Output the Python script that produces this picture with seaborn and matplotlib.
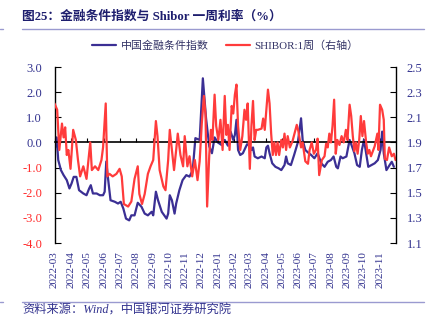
import matplotlib
matplotlib.use("Agg")
import matplotlib.pyplot as plt
import matplotlib.dates as mdates
from matplotlib.lines import Line2D
import seaborn as sns
import pandas as pd

sns.set_style("white")
plt.rcParams['font.family'] = ['Liberation Serif', 'Noto Sans CJK SC', 'DejaVu Sans']
plt.rcParams['axes.unicode_minus'] = False

# ---------------- data ----------------
fci_dates = [
    "2022-03-02", "2022-03-05", "2022-03-08", "2022-03-13", "2022-03-18", "2022-03-24", "2022-03-29",
    "2022-04-02", "2022-04-06", "2022-04-11", "2022-04-16", "2022-04-24", "2022-04-30", "2022-05-05",
    "2022-05-08", "2022-05-12", "2022-05-19", "2022-05-25", "2022-05-31", "2022-06-03", "2022-06-06",
    "2022-06-09", "2022-06-14", "2022-06-22", "2022-06-28", "2022-07-03", "2022-07-08", "2022-07-13",
    "2022-07-19", "2022-07-23", "2022-07-29", "2022-08-04", "2022-08-11", "2022-08-17", "2022-08-23",
    "2022-08-30", "2022-09-02", "2022-09-07", "2022-09-11", "2022-09-18", "2022-09-27", "2022-09-30",
    "2022-10-03", "2022-10-07", "2022-10-12", "2022-10-15", "2022-10-21", "2022-10-27", "2022-11-03",
    "2022-11-09", "2022-11-15", "2022-11-20", "2022-11-28", "2022-12-04", "2022-12-10", "2022-12-16",
    "2022-12-21", "2022-12-26", "2023-01-01", "2023-01-08", "2023-01-14", "2023-01-20", "2023-01-25",
    "2023-01-30", "2023-02-02", "2023-02-05", "2023-02-08", "2023-02-12", "2023-02-17", "2023-02-22",
    "2023-02-25", "2023-03-02", "2023-03-05", "2023-03-08", "2023-03-11", "2023-03-17", "2023-03-24",
    "2023-03-30", "2023-04-02", "2023-04-05", "2023-04-08", "2023-04-13", "2023-04-19", "2023-04-25",
    "2023-04-30", "2023-05-06", "2023-05-09", "2023-05-12", "2023-05-18", "2023-05-24", "2023-05-31",
    "2023-06-06", "2023-06-09", "2023-06-14", "2023-06-19", "2023-06-25", "2023-07-01", "2023-07-07",
    "2023-07-14", "2023-07-20", "2023-07-26", "2023-08-01", "2023-08-06", "2023-08-11", "2023-08-14",
    "2023-08-19", "2023-08-23", "2023-08-30", "2023-09-05", "2023-09-09", "2023-09-14", "2023-09-19",
    "2023-09-24", "2023-09-28", "2023-10-02", "2023-10-05", "2023-10-10", "2023-10-16", "2023-10-22",
    "2023-10-28", "2023-11-02", "2023-11-05", "2023-11-08", "2023-11-13", "2023-11-19", "2023-11-23",
    "2023-11-27",
]
fci_values = [
    -0.20, 0.20, -0.70, -1.10, -1.30, -1.50, -1.83,
    -1.63, -1.37, -1.37, -1.90, -2.03, -2.10, -1.83,
    -1.70, -2.03, -2.03, -2.10, -2.10, -1.96, -0.76,
    -1.37, -2.30, -2.36, -2.43, -2.36, -2.63, -3.03,
    -3.10, -2.90, -2.90, -2.40, -2.56, -2.83, -2.90,
    -2.76, -2.90, -1.96, -2.30, -2.76, -3.03, -2.83,
    -2.10, -2.30, -2.83, -2.43, -1.90, -1.50, -1.30,
    -1.36, -1.10, 0.17, 0.10, 2.55, 0.96, -0.16,
    -0.43, 0.20, 0.00, -0.10, 0.10, -0.13, 0.43,
    0.10, 0.30, 0.90, -0.30, -0.50, -0.43, -0.20,
    -0.07, -0.13, -0.30, -0.20, -0.56, -0.63, -0.56,
    -0.63, -0.20, -0.13, -0.43, -0.83, -0.97, -1.03,
    -1.10, -0.90, -0.56, -0.83, -0.90, -0.50, 0.00,
    0.96, 0.10, -0.30, -0.40, -0.50, -0.63, -0.43,
    -0.83, -0.97, -0.77, -0.70, -0.56, -0.97, -1.03,
    -0.56, -0.63, -0.56, 0.10, -0.13, -0.43, -0.90,
    -0.97, -0.30, 0.10, -0.30, -0.97, -0.90, -0.83,
    -0.70, -0.30, 0.43, -0.43, -1.10, -0.90, -0.77,
    -0.97,
]

shibor_dates = [
    "2022-03-01", "2022-03-06", "2022-03-10", "2022-03-15", "2022-03-18", "2022-03-21", "2022-03-24",
    "2022-03-27", "2022-03-31", "2022-04-05", "2022-04-10", "2022-04-14", "2022-04-18", "2022-04-24",
    "2022-04-30", "2022-05-07", "2022-05-10", "2022-05-16", "2022-05-22", "2022-05-28", "2022-05-31",
    "2022-06-05", "2022-06-08", "2022-06-12", "2022-06-18", "2022-06-25", "2022-07-01", "2022-07-05",
    "2022-07-09", "2022-07-17", "2022-07-23", "2022-07-29", "2022-08-04", "2022-08-07", "2022-08-12",
    "2022-08-17", "2022-08-23", "2022-08-28", "2022-09-02", "2022-09-07", "2022-09-10", "2022-09-14",
    "2022-09-21", "2022-09-25", "2022-09-30", "2022-10-03", "2022-10-07", "2022-10-11", "2022-10-15",
    "2022-10-18", "2022-10-23", "2022-10-28", "2022-10-31", "2022-11-05", "2022-11-09", "2022-11-14",
    "2022-11-19", "2022-11-24", "2022-11-28", "2022-12-02", "2022-12-06", "2022-12-09", "2022-12-12",
    "2022-12-16", "2022-12-19", "2022-12-22", "2022-12-26", "2022-12-29", "2023-01-02", "2023-01-06",
    "2023-01-10", "2023-01-14", "2023-01-17", "2023-01-20", "2023-01-23", "2023-01-27", "2023-01-30",
    "2023-02-02", "2023-02-05", "2023-02-08", "2023-02-12", "2023-02-16", "2023-02-20", "2023-02-23",
    "2023-02-26", "2023-03-02", "2023-03-05", "2023-03-08", "2023-03-11", "2023-03-14", "2023-03-17",
    "2023-03-24", "2023-03-27", "2023-03-30", "2023-04-02", "2023-04-05", "2023-04-08", "2023-04-11",
    "2023-04-14", "2023-04-17", "2023-04-20", "2023-04-23", "2023-04-26", "2023-04-30", "2023-05-03",
    "2023-05-06", "2023-05-09", "2023-05-12", "2023-05-16", "2023-05-21", "2023-05-24", "2023-05-29",
    "2023-06-01", "2023-06-06", "2023-06-09", "2023-06-14", "2023-06-19", "2023-06-22", "2023-06-26",
    "2023-06-30", "2023-07-04", "2023-07-07", "2023-07-10", "2023-07-15", "2023-07-20", "2023-07-23",
    "2023-07-26", "2023-07-29", "2023-08-01", "2023-08-04", "2023-08-07", "2023-08-10", "2023-08-13",
    "2023-08-17", "2023-08-21", "2023-08-25", "2023-08-29", "2023-09-01", "2023-09-05", "2023-09-08",
    "2023-09-11", "2023-09-14", "2023-09-17", "2023-09-20", "2023-09-23", "2023-09-26", "2023-09-29",
    "2023-10-02", "2023-10-06", "2023-10-09", "2023-10-12", "2023-10-15", "2023-10-22", "2023-10-27",
    "2023-10-29", "2023-11-01", "2023-11-05", "2023-11-08", "2023-11-10", "2023-11-14", "2023-11-18",
    "2023-11-23", "2023-11-27", "2023-11-30",
]
shibor_values = [
    2.21, 2.16, 1.84, 2.05, 1.94, 2.02, 1.80,
    1.84, 1.69, 2.00, 1.92, 1.76, 1.63, 1.71,
    1.61, 1.90, 1.68, 1.71, 1.68, 1.76, 1.86,
    2.21, 1.63, 1.65, 1.63, 1.65, 1.69, 1.63,
    1.41, 1.39, 1.43, 1.61, 1.71, 1.49, 1.41,
    1.49, 1.65, 1.71, 1.76, 2.07, 1.95, 1.68,
    1.55, 1.52, 1.76, 2.00, 1.84, 1.68, 1.84,
    1.97, 1.80, 1.71, 1.95, 1.71, 1.79, 1.63,
    1.76, 1.60, 1.75, 2.05, 2.27, 2.12, 1.39,
    1.80, 2.00, 1.92, 2.28, 2.03, 1.92, 2.08,
    1.84, 2.27, 1.96, 2.04, 1.84, 2.19, 2.13,
    2.28, 2.36, 2.03, 1.84, 1.95, 2.16, 2.08,
    2.21, 1.69, 2.03, 2.23, 1.92, 2.00, 2.00,
    2.01, 2.09, 2.00, 2.16, 2.32, 2.21, 1.97,
    1.80, 1.90, 1.80, 1.90, 1.80, 1.92, 1.86,
    1.97, 1.84, 1.95, 1.86, 1.91, 1.96, 2.04,
    1.99, 1.86, 1.90, 1.75, 1.73, 1.84, 1.90,
    1.81, 1.84, 1.93, 1.64, 1.76, 1.79, 1.89,
    1.86, 1.97, 1.90, 2.03, 2.24, 1.81, 1.92,
    1.88, 1.95, 1.90, 2.00, 1.92, 2.20, 2.11,
    1.95, 1.83, 1.90, 1.81, 1.92, 2.11, 1.95,
    2.07, 1.90, 1.81, 1.84, 1.79, 1.87, 1.97,
    1.84, 2.20, 2.16, 2.08, 1.77, 1.76, 1.86,
    1.79, 1.81, 1.76,
]

month_labels = [
    "2022-03", "2022-04", "2022-05", "2022-06", "2022-07", "2022-08", "2022-09",
    "2022-10", "2022-11", "2022-12", "2023-01", "2023-02", "2023-03", "2023-04",
    "2023-05", "2023-06", "2023-07", "2023-08", "2023-09", "2023-10", "2023-11",
]
left_ticks = [3.0, 2.0, 1.0, 0.0, -1.0, -2.0, -3.0, -4.0]
right_ticks = [2.5, 2.3, 2.1, 1.9, 1.7, 1.5, 1.3, 1.1]

title_text = "图25：金融条件指数与 Shibor 一周利率（%）"
fci_label = "中国金融条件指数"
shibor_label = "SHIBOR:1周（右轴）"
source_text = "资料来源：Wind，中国银河证券研究院"

# ---------------- styling ----------------
NAVY = "#33338F"
LINE_BLUE = "#3B2F94"
LINE_RED = "#FF3B3B"
RED_TXT = "#FF2A2A"
SEP = "#9A9AD0"
FONTS = ['Liberation Serif', 'Noto Sans CJK SC', 'DejaVu Sans']

W, H = 437, 327
fig = plt.figure(figsize=(W / 100, H / 100), dpi=100)
fig.patch.set_facecolor("white")
ax = fig.add_axes([54.5 / W, 1 - 243 / H, (395.5 - 54.5) / W, (243 - 67) / H])
ax.set_facecolor("white")

df_fci = pd.DataFrame({"date": pd.to_datetime(fci_dates), "value": fci_values})
df_shibor = pd.DataFrame({"date": pd.to_datetime(shibor_dates), "value": shibor_values})

sns.lineplot(data=df_fci, x="date", y="value", ax=ax, color=LINE_BLUE, linewidth=1.6,
             legend=False, zorder=2)
ax2 = ax.twinx()
sns.lineplot(data=df_shibor, x="date", y="value", ax=ax2, color=LINE_RED, linewidth=1.6,
             legend=False, zorder=2)

month_pos = pd.to_datetime(month_labels)
xmin = pd.Timestamp("2022-03-01")
xmax = pd.Timestamp("2023-11-30")
ax.set_xlim(xmin, xmax)
ax2.set_xlim(xmin, xmax)

ax.set_ylim(-4.0, 3.0)
ax2.set_ylim(1.1, 2.5)
ax.set_xlabel("")
ax.set_ylabel("")
ax2.set_xlabel("")
ax2.set_ylabel("")

# spines
for s in ["top", "right"]:
    ax.spines[s].set_visible(False)
for s in ["top", "left", "bottom"]:
    ax2.spines[s].set_visible(False)
ax.spines["left"].set_color("black")
ax.spines["left"].set_linewidth(1.0)
ax2.spines["right"].set_color("black")
ax2.spines["right"].set_linewidth(1.0)
ax.spines["bottom"].set_position(("data", 0))
ax.spines["bottom"].set_color("black")
ax.spines["bottom"].set_linewidth(1.2)
ax.spines["bottom"].set_zorder(3)

# zero-line ticks
ax.set_xticks(mdates.date2num(month_pos))
ax.tick_params(axis="x", direction="in", length=3, width=0.8, color="black",
               labelbottom=False, bottom=True)

# month labels at the bottom
sec = ax.secondary_xaxis(0.0)
sec.set_xticks(mdates.date2num(month_pos))
sec.set_xticklabels(month_labels, rotation=90, fontsize=8, color=NAVY, family=FONTS)
sec.tick_params(axis="x", length=0, pad=6)
sec.spines["bottom"].set_visible(False)

# left y axis
ax.set_yticks(left_ticks)
ax.set_yticklabels([f"{v:.1f}" for v in left_ticks], fontsize=9, family=FONTS)
for lab, v in zip(ax.get_yticklabels(), left_ticks):
    lab.set_color(RED_TXT if v < 0 else NAVY)
ax.tick_params(axis="y", direction="in", length=4, width=0.8, color="black", pad=9, left=True)

# right y axis
ax2.set_yticks(right_ticks)
ax2.set_yticklabels([f"{v:.1f}" for v in right_ticks], fontsize=9, family=FONTS, color=NAVY)
ax2.tick_params(axis="y", direction="in", length=4, width=0.8, color="black", pad=8, right=True)
ax2.grid(False)
ax.grid(False)

# title
fig.text(22 / W, 1 - 17 / H, title_text, fontsize=9.2, fontweight="bold", color="#1E1E6E",
         family=FONTS, ha="left", va="center")
fig.add_artist(Line2D([22 / W, 424 / W], [1 - 28.5 / H, 1 - 28.5 / H], transform=fig.transFigure,
                      color=SEP, linewidth=1.0))
fig.add_artist(Line2D([0, 3 / W], [1 - 28.5 / H, 1 - 28.5 / H], transform=fig.transFigure,
                      color=SEP, linewidth=1.0))

# legend
handles = [Line2D([0], [0], color=LINE_BLUE, linewidth=1.6),
           Line2D([0], [0], color=LINE_RED, linewidth=1.6)]
leg = fig.legend(handles, [fci_label, shibor_label], loc="center",
                 bbox_to_anchor=(225.5 / W, 1 - 46 / H), ncol=2, frameon=False,
                 prop={"family": FONTS, "size": 7.9}, handlelength=2.2, handletextpad=0.4,
                 columnspacing=1.6)
for t in leg.get_texts():
    t.set_color("#333366")

# source
fig.add_artist(Line2D([22 / W, 424 / W], [1 - 301.5 / H, 1 - 301.5 / H], transform=fig.transFigure,
                      color=SEP, linewidth=1.0))
fig.add_artist(Line2D([0, 3 / W], [1 - 301.5 / H, 1 - 301.5 / H], transform=fig.transFigure,
                      color=SEP, linewidth=1.0))
fig.text(22 / W, 1 - 311 / H, source_text, fontsize=8.8, fontstyle="italic", color=NAVY,
         family=FONTS, ha="left", va="center")

fig.savefig("out.png", dpi=100, facecolor="white")
